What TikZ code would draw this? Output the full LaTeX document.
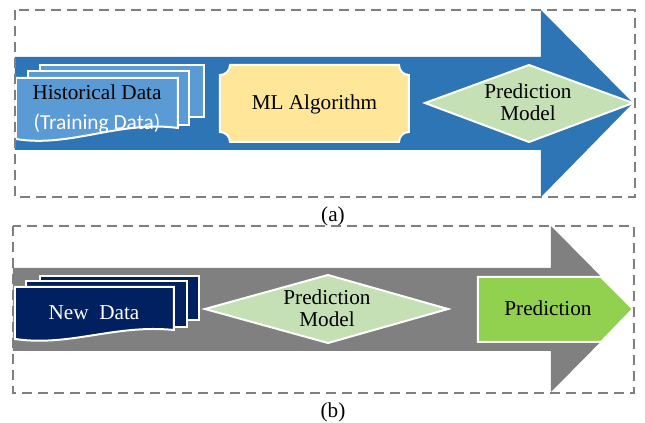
\documentclass[tikz,border=0pt]{standalone}
\usepackage{fontspec}
\setmainfont{Liberation Serif}
\newfontfamily\calibrifont{Carlito}
\definecolor{arrowblue}{HTML}{2E75B6}
\definecolor{docblue}{HTML}{5B9BD5}
\definecolor{plaquefill}{HTML}{FFE699}
\definecolor{modelgreen}{HTML}{C5E0B4}
\definecolor{arrowgray}{HTML}{808080}
\definecolor{docnavy}{HTML}{002060}
\definecolor{predgreen}{HTML}{92D050}
\definecolor{panelgray}{HTML}{7F7F7F}
\begin{document}
\begin{tikzpicture}[x=0.5pt,y=-0.5pt,
  panel/.style={draw=panelgray, line width=1pt, dash pattern=on 5pt off 3pt},
  outline/.style={draw=white, line width=1pt, line join=miter},
  txt/.style={font=\fontsize{10.6}{11}\selectfont, inner sep=0pt, align=center},
  lbl/.style={txt, anchor=base}]
\useasboundingbox (0,0) rectangle (645,423);

% ---------- panel (a): training ----------
\fill[arrowblue] (15,57) -- (541,57) -- (541,10) -- (633,103) -- (541,197)
  -- (541,150) -- (15,150) -- cycle;

% stacked documents
\path[fill=docblue, outline] (40,65) rectangle (204,117);
\path[fill=docblue, outline] (28,71) rectangle (189,125);
\path[fill=docblue, outline] (16,78) -- (178,78) -- (178,128)
  .. controls (120,120) and (70,148) .. (16,139) -- cycle;
\node[lbl] (hist) at (97,99) {Historical Data};
\node[lbl, text=white, font=\calibrifont\fontsize{10.7}{11}\selectfont] (train) at (97,129) {(Training Data)};

% plaque with concave corners
\path[fill=plaquefill, outline] (230,65) -- (399,65)
  .. controls (399,70.5) and (403.5,75) .. (409,75) -- (409,132)
  .. controls (403.5,132) and (399,136.5) .. (399,142) -- (230,142)
  .. controls (230,136.5) and (225.5,132) .. (220,132) -- (220,75)
  .. controls (225.5,75) and (230,70.5) .. (230,65) -- cycle;
\node[lbl] (ml) at (314.5,110) {ML Algorithm};

% model diamond
\path[fill=modelgreen, outline] (425,103) -- (529,65) -- (633,103) -- (529,142) -- cycle;
\node[txt] (modelA) at (528,102.5) {Prediction\\Model};

\path[panel] (15,10) rectangle (635,197);
\node[lbl] (capA) at (333,221) {(a)};

% ---------- panel (b): prediction ----------
\fill[arrowgray] (13,268) -- (551,268) -- (551,226) -- (633,309) -- (551,392)
  -- (551,351) -- (13,351) -- cycle;

\path[fill=docnavy, outline] (40,276) rectangle (199,320);
\path[fill=docnavy, outline] (26,281) rectangle (187,327);
\path[fill=docnavy, outline] (15,287) -- (174,287) -- (174,330)
  .. controls (115,324) and (70,347) .. (15,339) -- cycle;
\node[lbl, text=white] (newdata) at (94,320) {New\ \ Data};

\path[fill=modelgreen, outline] (205,309) -- (328,275) -- (448,309) -- (328,343) -- cycle;
\node[txt] (modelB) at (327,308.5) {Prediction\\Model};

\path[fill=predgreen, outline] (478,277) -- (601,277) -- (633,309) -- (601,342)
  -- (478,342) -- cycle;
\node[lbl] (pred) at (548,316) {Prediction};

\path[panel] (13,226) rectangle (634,393);
\node[lbl] (capB) at (333,418) {(b)};
\end{tikzpicture}
\end{document}
